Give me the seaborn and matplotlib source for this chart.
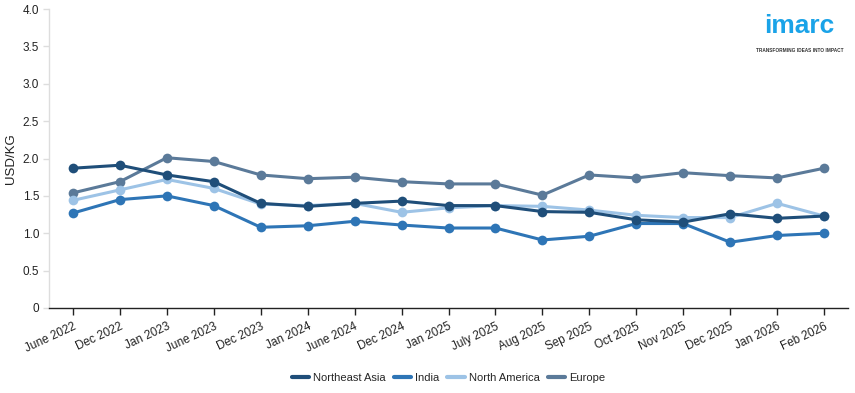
import matplotlib
matplotlib.use("Agg")
import matplotlib.pyplot as plt
import seaborn as sns
import pandas as pd

categories = ["June 2022", "Dec 2022", "Jan 2023", "June 2023", "Dec 2023", "Jan 2024",
              "June 2024", "Dec 2024", "Jan 2025", "July 2025", "Aug 2025", "Sep 2025",
              "Oct 2025", "Nov 2025", "Dec 2025", "Jan 2026", "Feb 2026"]
northeast_asia = [1.87, 1.91, 1.78, 1.69, 1.40, 1.36, 1.40, 1.43, 1.37, 1.37, 1.29, 1.28,
                  1.18, 1.15, 1.26, 1.20, 1.23]
india = [1.27, 1.45, 1.50, 1.37, 1.08, 1.10, 1.16, 1.11, 1.07, 1.07, 0.91, 0.96,
         1.13, 1.13, 0.88, 0.97, 1.00]
north_america = [1.44, 1.58, 1.72, 1.60, 1.39, 1.37, 1.40, 1.28, 1.34, 1.37, 1.36, 1.31,
                 1.24, 1.21, 1.21, 1.40, 1.23]
europe = [1.54, 1.69, 2.01, 1.96, 1.78, 1.73, 1.75, 1.69, 1.66, 1.66, 1.51, 1.78,
          1.74, 1.81, 1.77, 1.74, 1.87]
series_names = ["Northeast Asia", "India", "North America", "Europe"]
colors = ["#1f4e79", "#2e75b6", "#9dc3e6", "#5b7a99"]
y_ticks = [0, 0.5, 1.0, 1.5, 2.0, 2.5, 3.0, 3.5, 4.0]
y_tick_labels = ["0", "0.5", "1.0", "1.5", "2.0", "2.5", "3.0", "3.5", "4.0"]

rows = []
for name, vals in zip(series_names, [northeast_asia, india, north_america, europe]):
    for i, v in enumerate(vals):
        rows.append({"idx": i, "value": v, "series": name})
df = pd.DataFrame(rows)

sns.set_theme(style="white")
plt.rcParams["font.family"] = ["Liberation Sans", "DejaVu Sans"]

fig = plt.figure(figsize=(8.55, 3.93), dpi=100)
ax = fig.add_axes([49/855, 85/393, (848-49)/855, (308-9)/393])

sns.lineplot(data=df, x="idx", y="value", hue="series", hue_order=series_names,
             palette=colors, marker="o", markersize=7, markeredgewidth=0,
             linewidth=2.2, ax=ax, legend=True)

# draw Northeast Asia on top, Europe at the bottom
for k, line in enumerate(ax.lines[:len(series_names)]):
    line.set_zorder(10 - k)

ax.set_xlim(-0.51, len(categories) - 1 + 0.51)
ax.set_ylim(0, 4.0)
ax.set_xticks(range(len(categories)))
ax.set_xticklabels(categories, rotation=25, ha="right", rotation_mode="anchor", fontsize=8.5, color="#222222")
ax.set_yticks(y_ticks)
ax.set_yticklabels(y_tick_labels, fontsize=8.5, color="#222222")
ax.set_xlabel("")
ax.set_ylabel("USD/KG", fontsize=9.5, color="#222222")

for s in ["top", "right"]:
    ax.spines[s].set_visible(False)
ax.spines["left"].set_color("#dddddd")
ax.spines["left"].set_linewidth(1)
ax.spines["bottom"].set_color("#222222")
ax.spines["bottom"].set_linewidth(1)
ax.tick_params(axis="x", bottom=True, length=5, width=1, color="#222222", pad=4)
ax.tick_params(axis="y", left=True, length=4, width=1, color="#dddddd", pad=3)

handles, labels = ax.get_legend_handles_labels()
ax.legend(handles=handles, labels=labels, loc="center", bbox_to_anchor=(0.5, -0.235),
          ncol=4, frameon=False, fontsize=8, handlelength=1.6, handletextpad=0.35,
          columnspacing=0.7)
for line in ax.get_legend().get_lines():
    line.set_marker("")
    line.set_linewidth(3)

fig.text(0.935, 0.935, "imarc", color="#1aa3e8", fontsize=19, fontweight="bold",
         ha="center", va="center")
fig.text(0.935, 0.872, "TRANSFORMING IDEAS INTO IMPACT", color="#333333", fontsize=3.4,
         ha="center", va="center", fontweight="bold")

fig.savefig("out.png", dpi=100)
